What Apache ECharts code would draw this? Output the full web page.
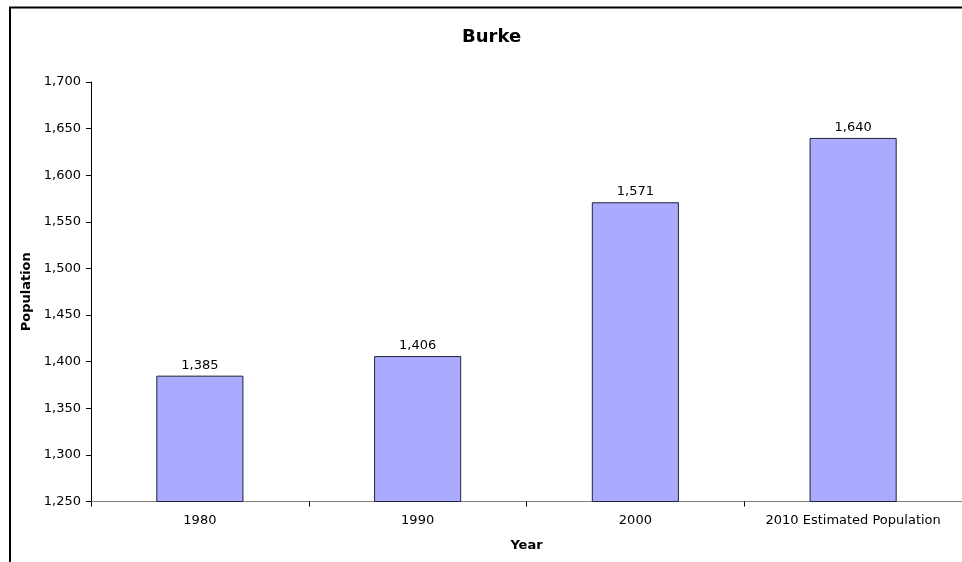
<!DOCTYPE html>
<html>
<head>
<meta charset="utf-8">
<script src="https://cdn.jsdelivr.net/npm/echarts@6/dist/echarts.min.js"></script>
<style>
html,body{margin:0;padding:0;background:#fff;}
#chart{width:962px;height:562px;}
</style>
</head>
<body>
<div id="chart"></div>
<script>
const categories = ['1980', '1990', '2000', '2010 Estimated Population'];
const population = [1385, 1406, 1571, 1640];
const yMin = 1250, yMax = 1700, yStep = 50;

const chart = echarts.init(document.getElementById('chart'));
const font = 'DejaVu Sans, Verdana, sans-serif';
chart.setOption({
  animation: false,
  backgroundColor: '#fff',
  graphic: [{
    type: 'rect', silent: true,
    shape: {x: 10, y: 7.5, width: 1000, height: 600},
    style: {fill: 'none', stroke: '#000', lineWidth: 2}
  }],
  title: {
    text: 'Burke', left: 457, top: 23,
    textStyle: {fontFamily: font, fontSize: 18, fontWeight: 'bold', color: '#000'}
  },
  grid: {left: 91, right: -1, top: 82, bottom: 60.5, containLabel: false},
  xAxis: {
    type: 'category', data: categories,
    name: 'Year', nameLocation: 'middle', nameGap: 38,
    nameTextStyle: {fontFamily: font, fontSize: 13, fontWeight: 'bold', color: '#000'},
    axisLine: {lineStyle: {color: '#808080', width: 1}},
    axisTick: {show: true, interval: 0, alignWithLabel: false, length: 5, lineStyle: {color: '#000'}},
    axisLabel: {interval: 0, hideOverlap: false, fontFamily: font, fontSize: 13, color: '#000', margin: 13}
  },
  yAxis: {
    type: 'value', min: yMin, max: yMax, interval: yStep,
    name: 'Population', nameLocation: 'middle', nameGap: 51,
    nameTextStyle: {fontFamily: font, fontSize: 13, fontWeight: 'bold', color: '#000'},
    splitLine: {show: false},
    axisLine: {show: true, lineStyle: {color: '#000', width: 1}},
    axisTick: {show: true, length: 5, lineStyle: {color: '#000'}},
    axisLabel: {fontFamily: font, fontSize: 13, color: '#000', margin: 10,
      formatter: v => v.toLocaleString('en-US')}
  },
  series: [{
    type: 'bar', data: population, barWidth: '40%',
    itemStyle: {color: '#AAAAFF', borderColor: '#22223a', borderWidth: 1},
    label: {show: true, position: 'top', distance: 4, fontFamily: font, fontSize: 13, color: '#000',
      formatter: p => p.value.toLocaleString('en-US')}
  }]
});
</script>
</body>
</html>
